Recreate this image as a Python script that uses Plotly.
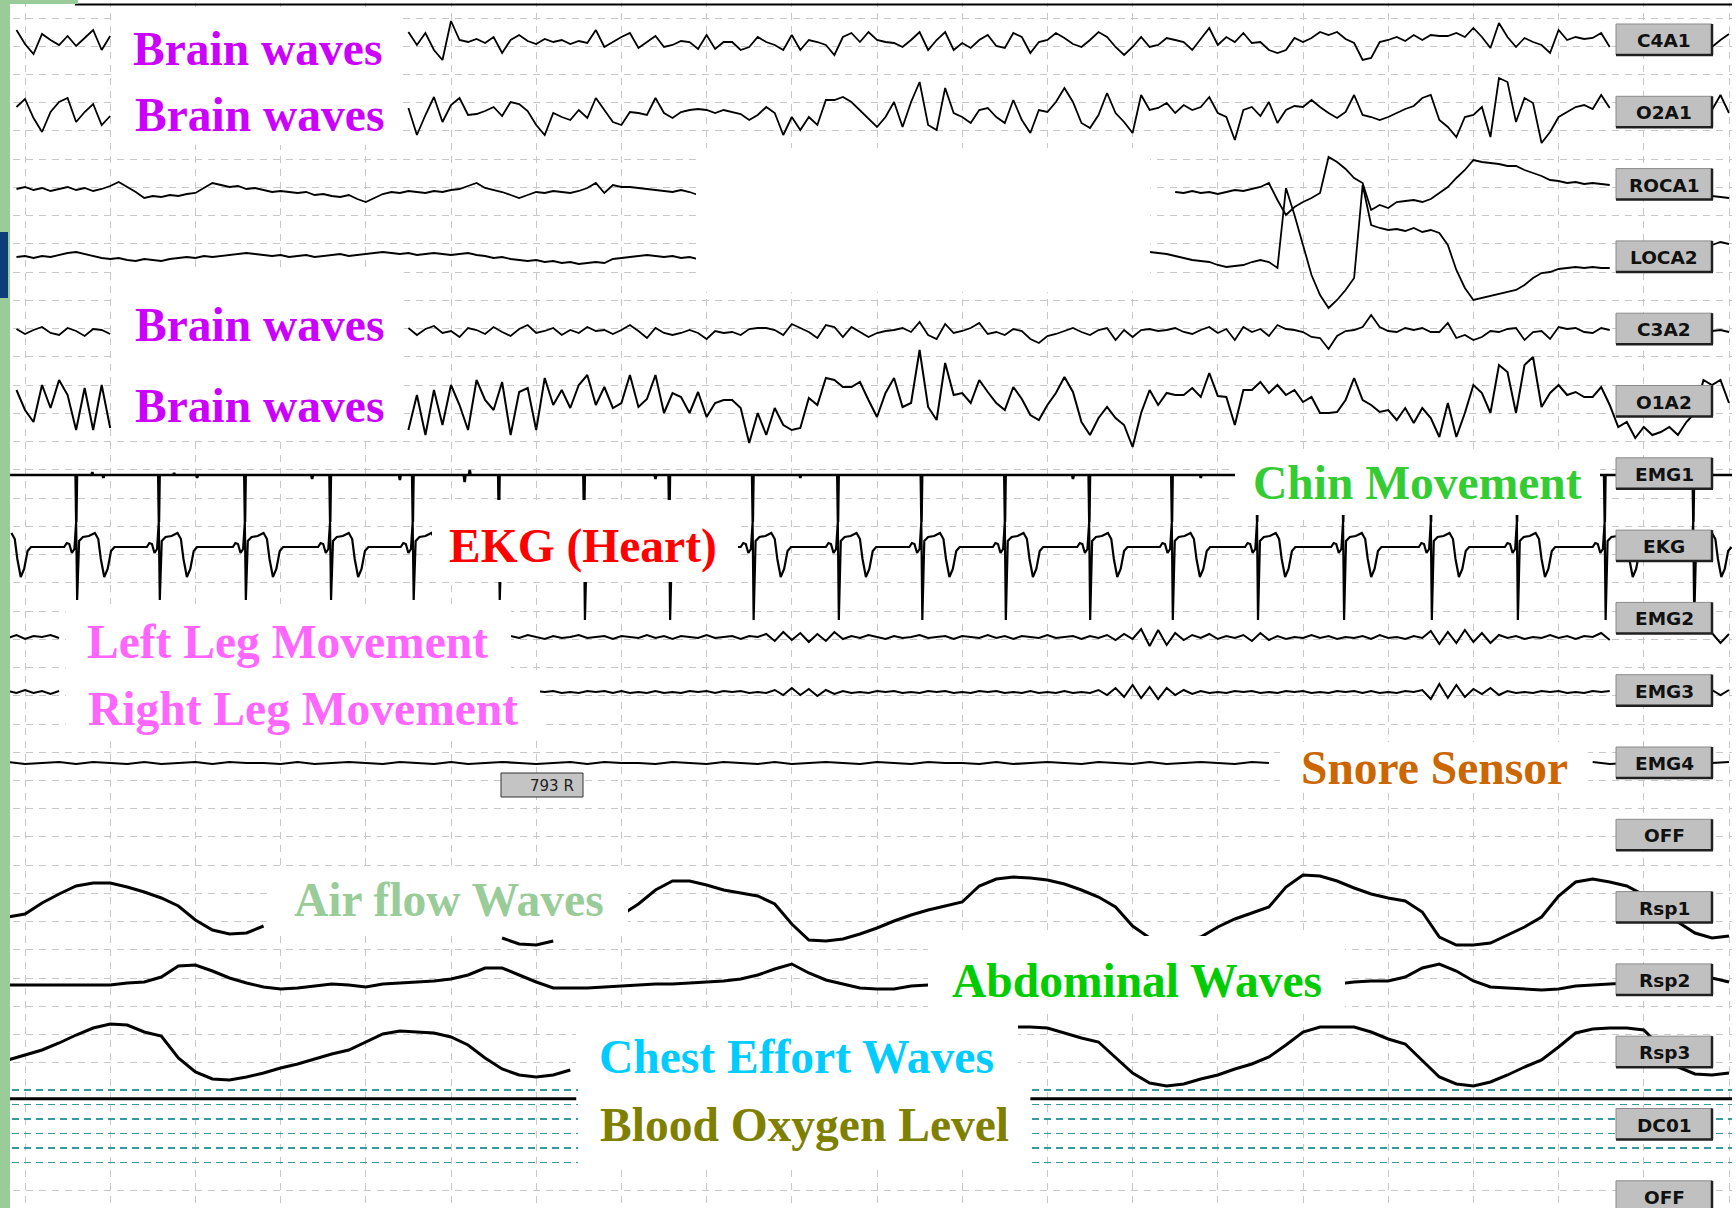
import plotly.graph_objects as go

# ---------------- layout constants (pixels of the 1736x1208 page) ----------------
W, H = 1736, 1208
X0_PX, PX_PER_S = 25.0, 85.2          # time 0 s sits at x=25 px, one second = 85.2 px


def t_of(px):
    return (px - X0_PX) / PX_PER_S


GRID_COLOR = "#c8c8c8"
TEAL = "#349c9c"
GRID_Y0, GRID_DY, GRID_N = 18.0, 28.24, 38
BOX_X0, BOX_X1, BOX_C0, BOX_DC, BOX_H = 1616, 1712, 39.5, 72.3, 31

# ---------------- channel names (right-hand label boxes) ----------------
CHANNEL_NAMES = ["C4A1", "O2A1", "ROCA1", "LOCA2", "C3A2", "O1A2", "EMG1", "EKG",
                 "EMG2", "EMG3", "EMG4", "OFF", "Rsp1", "Rsp2", "Rsp3", "DC01", "OFF"]

# ---------------- signal values (amplitude units, up = positive) ----------------
# EEG C4A1
C4A1_A = [12, -2, -12, 8, 2, -3, 6, -4, 4, 12, -8, 6]
C4A1_B = [10, -3, 9, -8, -18, 21, 2, 0, 3, -1, 5, -11, 2, 7, 1, -2, 3, 0, 2, -2, 1, -1, 12,
          -5, 0, 5, 9, -6, 0, 6, -5, -3, 1,
          0, -7, 7, -7, 0, 0, -8, -5, 5, 0,
          -3, -8, 7, -8, 2, 0, -3, -13, 5, 9,
          0, 10, 2, 0, -1, -5, 2, 10, -8, 2,
          10, -8, -1, -6, 2, 7, -4, -6, 9, 5,
          -11, 0, 2, 9, 4, -2, -5, 2, 10, 5,
          -5, -13, -5, 5, -5, -3, 4, 2, 0, -8,
          3, 14, -3, 5, 0, 9, -1, 0, -8, -11,
          -8, 4, 0, 4, 10, 7, 10, 3, -1, -18,
          -16, 0, 2, 5, 1, 7, 2, 7, 6, 6,
          9, 5, 14, 5, -6, 19, 5, -5, 4, 0,
          -3, -11, 12, 2, 5, 3, 4, 9, -5]
C4A1_C = [-5, 2, 8]

# EEG O2A1
O2A1_A = [3, 11, -8, -22, -2, 8, 12, -12, -2, 6, -15, -6]
O2A1_B = [2, -25, -5, 13, -12, 5, 12, -5, -4, -1, 3, -6, 8, 6, -1, -15, -25, -3, -7, -10, 0, -8, 12,
          0, -12, -15, -2, -3, -5, 12, -3, -8, -2,
          0, 1, 0, -3, 0, -2, -4, -10, -5, 3,
          -3, -25, -7, -20, -7, -15, 10, 10, 13, 8,
          0, -8, -17, -7, 8, -17, 8, 28, -15, -20,
          22, -3, -7, -13, 0, 2, -7, -13, 10, -10,
          -23, 0, -2, 8, 22, 8, -13, -18, -5, 17,
          -3, -12, -23, 15, 0, 2, 7, -3, 5, 0,
          3, 13, -3, -7, -30, 0, 3, -6, 8, -13,
          0, 4, 3, 10, 3, -3, -8, -2, 15, -5,
          -7, -10, -7, -3, 1, 4, 12, 15, -10, -17,
          -27, -7, -5, 3, -27, 32, 28, -12, 12, 7,
          -33, -22, -7, -2, 3, 5, 1, 15, 2]
O2A1_C = [0, 15, -3]

# EOG ROCA1
ROCA1_A = [1, 3, 0, 2, -1, 1, 3, 0, 2, -1,
           1, 4, 8, 3, -2, -8, -6, -7, -5, -6,
           -4, -3, 2, 7, 5, 3, 4, 1, 2, 0,
           -2, -1, -2, -3, -2, -5, -4, -6, -7, -5,
           -9, -12, -8, -4, -2, -3, -1, -2, -3, -1,
           -2, 0, 1, 4, 7, 2, 0, -2, -5, -8,
           -5, -2, -3, -1, -2, -3, -1, 2, 7, -3,
           5, 3, 3, 2, 1, 0, -1, -2, 0, -2, -5]
ROCA1_B = [-2, -3, -1, -3, -2, -4, -2, 0, -1, 1, 3, 7,
           -10, -25, -17, -12, -8, -3, 33, 28, 21, 12, 7,
           -20, -15, -18, -12, -11, -10, -12, -9, -3, 3, 12, 20, 30,
           28, 27, 26, 24, 24, 20, 17, 14, 10, 9, 7, 8, 6, 7, 6, 5]
ROCA1_C = [-6, -7, -8]

# EOG LOCA2
LOCA2_A = [-7, -6, -8, -6, -7, -5, -3, -2, -4, -6,
           -8, -9, -8, -10, -11, -9, -10, -11, -9, -8,
           -7, -8, -6, -7, -6, -5, -4, -3, -4, -5,
           -6, -5, -7, -6, -5, -7, -6, -5, -4, -6,
           -5, -4, -3, -2, -3, -4, -3, -5, -4, -3,
           -4, -5, -4, -3, -5, -6, -8, -7, -9, -10,
           -11, -10, -12, -11, -13, -12, -14, -13, -12, -13,
           -9, -8, -7, -6, -5, -6, -7, -6, -8, -7, -9, -13]
LOCA2_B = [-2, -3, -4, -6, -8, -10, -11, -12, -15, -17, -16, -15, -12, -10, -12, -18,
           62, 35, 5, -25, -45, -58, -50, -40, -28, 65,
           25, 22, 20, 21, 19, 22, 18, 20, 17, 5,
           -20, -38, -50, -48, -46, -44, -42, -40, -35, -28,
           -23, -22, -19, -18, -17, -18, -17, -18, -18]
LOCA2_C = [5, 8, 6]

# EEG C3A2
C3A2_A = [2, -3, 1, 4, -2, -4, 3, 0, -5, 2, 1, -3]
C3A2_B = [3, -4, 2, 5, -2, 0, -6, 3, 1, -3, 4, -1, -5, 2, 6, -2, 0, 3, -4, 1, -2, 4, 0,
          1, -3, 1, 6, 0, -7, 3, -2, -4, -2,
          1, -2, -8, 0, -2, -1, -4, 2, 3, 3,
          1, -4, 7, 3, -1, -7, 6, 4, -6, 4,
          -1, -6, -2, 0, 1, 3, -1, 9, -4, -8,
          7, -2, 0, 3, 8, -3, -1, -4, 2, 0,
          -8, -12, -5, -3, 0, 3, -1, -4, 1, 3,
          -9, 1, -6, 1, 2, 0, 1, 3, -1, -3,
          1, 4, -2, 2, -9, 4, -1, 2, -5, 6,
          2, 1, -1, -6, -7, -18, -5, 0, 1, 4,
          16, 4, 0, -1, 3, 1, 3, -1, -1, 8,
          -7, -4, -9, -6, 0, -1, 2, 3, -9, -1,
          0, -8, 4, 2, 3, -1, -2, 3, 1]
C3A2_C = [0, 1, -1]

# EEG O1A2
O1A2_A = [10, -10, -22, 15, -8, 20, 5, -30, 12, -30, 15, -28]
O1A2_B = [-30, 5, -35, 10, -25, 15, -5, -30, 20, 0, -10, 18, -35, 8, 12, -30, 22, -5, 10, -8, 15, 25, -5,
          13, -8, -3, 25, -7, 1, 25, -13, 7, 3,
          -13, 8, -17, -3, 0, 0, -8, -43, -13, -35,
          -8, -25, -30, -28, 2, -5, 22, 20, 13, 13,
          18, 0, -17, 7, 22, -7, -3, 50, -7, -20,
          37, 5, 7, -3, 20, 8, -3, -10, 13, 1,
          -15, -20, -5, 7, 23, 8, -22, -35, -18, -7,
          -18, -25, -47, -13, 10, -5, 7, 5, 5, 12,
          3, 27, 4, 3, -25, 10, 10, 18, 7, 15,
          5, 10, -2, 3, -13, -13, -12, 0, 22, 0,
          -5, -12, -10, -20, -8, -23, -8, -18, -37, -3,
          -37, -13, 15, 7, -13, 35, 28, -13, 35, 43,
          -7, 7, 15, 5, 8, 3, 3, 13, -5, -27,
          -22, -38, -27, -35, -32, -27, -35, -22, -13, 20,
          15, 20, -3]

# EKG: beat times (s), R and S amplitudes, and the shape around each beat
EKG_BEATS = [-0.38, 0.60, 1.57, 2.58, 3.58, 4.55, 5.56, 6.56, 7.56, 8.54, 9.54,
             10.52, 11.50, 12.49, 13.46, 14.46, 15.47, 16.50, 17.51, 18.54, 19.58]
EKG_R = [25, 25, 25, 25, 25, 25, 25, 25, 25, 25, 25, 25, 25, 25, 25, 25, 25, 25, 25, 25, 25]
EKG_S = [-53, -53, -53, -53, -53, -53, -53, -73, -73, -73, -73, -73, -73, -73, -73, -73,
         -73, -73, -73, -73, -73]
EKG_PRE_DT = [-0.14, -0.11, -0.08, -0.05, -0.02]
EKG_PRE_V = [0, 4, 3, -6, -2]
EKG_POST_DT = [0.035, 0.08, 0.15, 0.22, 0.26, 0.29, 0.33, 0.37, 0.41, 0.45]
EKG_POST_V = [6, 10, 11, 14, 8, -12, -30, -22, -4, 0]

# Chin EMG1: cardiac artefact depth at each beat, plus small blips
EMG1_SPIKE = [-47, -47, -47, -47, -47, -47, -47, -47, -47, -47, -47, -47, -47, -47,
              -47, -47, -47, -47, -47, -47, -47]
EMG1_BLIP_T = [0.79, 0.92, 1.75, 2.02, 3.37, 4.40, 5.16, 5.22, 7.40, 9.10, 12.30, 13.80]
EMG1_BLIP_V = [3, -3, 2, -3, -4, -5, -7, 5, -4, -3, -4, -3]

# Leg EMG2 / EMG3
EMG2_A = [-1, 2, -2, 1, 0, 2, -1]
EMG2_B = [1, -1, 2, 0, -2, 1, -1, 0, 2, -1,
          0, 1, -2, 1, 0, -1, 2, -1, 1, -2,
          1, 0, -1, 2, -1, 0, 1, -2, 1, 0,
          3, -4, 5, -3, 4, -5, 3, -4, 5, -2,
          1, -1, 2, 0, -2, 1, -1, 0, 2, -1,
          0, 1, -2, 1, 0, -1, 2, -1, 1, -2,
          1, 0, -1, 2, -1, 0, 1, -2, 1, -1,
          2, -3, 3, -2, 8, -9, 7, -8, 4, -3,
          2, -1, 3, -2, 1, -1, 2, -4, 4, -3,
          1, -2, 0, -1, 2, -1, 1, -2, 0, -1,
          1, -2, 2, -1, 0, -2, 1, -1, 6, -7,
          5, -6, 7, -5, 4, -6, 2, -1, 1, -2,
          0, -1, 2, -1, 1, -2, 1, 0, 4, -3]
EMG2_C = [4, -6, 3]
EMG3_A = [1, -1, 2, -1, 1, -2, 1]
EMG3_B = [1, 0, 1, -1, 0, -1, 1, 0, 1, -1,
          1, -1, 0, -1, 1, -1, 0, -1, 1, 0,
          1, -1, 1, 0, 1, -1, 0, -1, 2, -3,
          4, -3, 3, -4, 2, -2, 1, -1, 0, -1,
          1, 0, 1, -1, 0, -1, 1, 0, 1, -1,
          0, -1, 1, 0, 1, -1, 0, -1, 1, -1,
          0, -1, 1, -1, 0, -1, 2, -3, 4, -5,
          7, -6, 5, -7, 4, -3, 2, -2, 1, -1,
          0, -1, 1, 0, 1, -1, 0, -1, 1, 0,
          1, -1, 0, -1, 1, 0, 1, -1, 1, -1,
          0, -1, 1, 0, 2, -7, 8, -6, 7, -5,
          3, -2, 4, -3, 1, -1, 0, -1, 1, 0,
          1, -1, 0, -1, 1, 0, 1]
EMG3_C = [2, -3, 2]

# Snore EMG4
EMG4_A = [1, -1, 0, 1, -1, 1, 0, -1, 1, -1, 0, 1, -1, 1, 0,
          0, -1, 1, -1, 0, 1, 0, -1, 1, 0, -1, 1, -1, 0, 1,
          0, -1, 0, 1, -1, 1, 0, 0, -1, 1, 0, -1, 1, 0, -1,
          1, -1, 0, 1, 0, -1, 1, 0, -1, 1, 0, 0, -1, 1, -1,
          0, 1, 0, -1, 1, 0, -1, 1, -1, 0, 1, 0, -1, 1, 0]
EMG4_B = [1, -1, 0]
EMG4_C = [0, 1]

# Respiration
RSP1_A = [-10, -7, 4, 13, 21, 24, 24, 20, 15, 9, 1, -13, -23, -27, -26, -19]
RSP1_B = [-31, -37, -38, -34]
RSP1_C = [-8, 3, 17, 26, 26, 22, 17, 14, 11, 3,
          -17, -33, -34, -32, -27, -21, -14, -8, -3, 1,
          5, 21, 28, 30, 29, 27, 23, 17, 10, 0,
          -19, -31, -36, -33, -30, -20, -12, -6, 0, 20,
          32, 31, 26, 19, 13, 9, 6, -5, -30, -38,
          -38, -36, -28, -20, -10, 11, 25, 28, 25, 21,
          12, -2, -15, -26, -31, -29]
RSP2_A = [-2, -2, -2, -2, -2, -2, -2, 0, 1, 6,
          17, 18, 12, 5, 0, -4, -6, -5, -3, -1,
          -2, -4, -1, 0, 1, 2, 4, 8, 15, 15,
          8, 1, -5, -5, -5, -4, -3, -2, -1, -1,
          0, 1, 2, 4, 8, 14, 19, 10, 3, -1,
          -5, -6, -6, -3, -2]
RSP2_B = [-1, 1, 2, 2, 6, 15, 19, 12, 2, -4,
          -5, -6, -7, -6, -3, -2, -1, 0, 1, 2,
          3, 4, 5, 1]
RSP3_A = [-8, -3, 2, 9, 17, 24, 28, 27, 20, 16,
          -6, -20, -27, -28, -25, -21, -16, -12, -7, -2,
          2, 10, 18, 21, 20, 19, 15, 7, -6, -17,
          -23, -25, -23, -18]
RSP3_B = [25, 25, 24, 19, 14, 10, -6, -21, -31, -34,
          -32, -27, -23, -17, -12, -5, 7, 20, 25, 25,
          25, 20, 13, 8, -8, -25, -32, -34, -30, -23,
          -15, -8, 5, 19, 23, 24, 24, 22, 5, -15,
          -22, -23, -21]

# SpO2 (%) readings
DC01_T_A = [-0.2, 1.0, 2.0, 3.0, 4.0, 5.0, 6.0, 6.47]
DC01_A = [97, 97, 97, 97, 97, 97, 97, 97]
DC01_T_B = [11.8, 13.0, 14.0, 15.0, 16.0, 17.0, 18.0, 19.0, 20.1]
DC01_B = [97, 97, 97, 97, 97, 97, 97, 97, 97]
SPO2_LEVELS = [75, 80, 85, 90, 95, 100]
SPO2_TOP_PX, SPO2_PX_PER_PCT = 1090.0, 2.9

# ---------------- helpers ----------------


def build(segments):
    xs, ys = [], []
    for t0, dt, vals in segments:
        if xs:
            xs.append(None)
            ys.append(None)
        for i, v in enumerate(vals):
            xs.append(round(t0 + i * dt, 4))
            ys.append(v)
    return xs, ys


def build_ekg():
    xs, ys = [], []
    for tb, r, s in zip(EKG_BEATS, EKG_R, EKG_S):
        pts = [(tb + d, v) for d, v in zip(EKG_PRE_DT, EKG_PRE_V)]
        pts += [(tb, r), (tb + 0.012, s)]
        pts += [(tb + d, v) for d, v in zip(EKG_POST_DT, EKG_POST_V)]
        for t, v in pts:
            if t >= -0.18:
                xs.append(round(t, 4))
                ys.append(v)
    return xs, ys


def build_emg1():
    ev = []
    for tb, a in zip(EKG_BEATS, EMG1_SPIKE):
        ev += [(tb - 0.006, 0), (tb + 0.002, a), (tb + 0.010, 0)]
    for tb, a in zip(EMG1_BLIP_T, EMG1_BLIP_V):
        ev += [(tb - 0.01, 0), (tb, a), (tb + 0.01, 0)]
    ev = [(-0.18, 0)] + sorted(ev) + [(20.05, 0)]
    return [round(t, 4) for t, _ in ev], [v for _, v in ev]


# (name, baseline px, x/y, line width)
CHANNEL_TRACES = [
    ("C4A1", 42, build([(-0.1, 0.1, C4A1_A), (4.5, 0.1, C4A1_B), (19.8, 0.1, C4A1_C)]), 1.8),
    ("O2A1", 110, build([(-0.1, 0.1, O2A1_A), (4.5, 0.1, O2A1_B), (19.8, 0.1, O2A1_C)]), 1.8),
    ("ROCA1", 190, build([(-0.1, 0.1, ROCA1_A), (13.5, 0.1, ROCA1_B), (19.8, 0.1, ROCA1_C)]), 1.8),
    ("LOCA2", 250, build([(-0.1, 0.1, LOCA2_A), (13.2, 0.1, LOCA2_B), (19.8, 0.1, LOCA2_C)]), 1.8),
    ("C3A2", 331, build([(-0.1, 0.1, C3A2_A), (4.5, 0.1, C3A2_B), (19.8, 0.1, C3A2_C)]), 1.8),
    ("O1A2", 400, build([(-0.1, 0.1, O1A2_A), (4.5, 0.1, O1A2_B)]), 2.0),
    ("EMG1", 475, build_emg1(), 2.6),
    ("EKG", 547, build_ekg(), 2.2),
    ("EMG2", 637, build([(-0.2, 0.1, EMG2_A), (5.7, 0.1, EMG2_B), (19.8, 0.1, EMG2_C)]), 2.0),
    ("EMG3", 692, build([(-0.2, 0.1, EMG3_A), (6.0, 0.1, EMG3_B), (19.8, 0.1, EMG3_C)]), 2.0),
    ("EMG4", 763, build([(-0.2, 0.2, EMG4_A), (18.4, 0.2, EMG4_B), (19.8, 0.2, EMG4_C)]), 2.2),
    ("Rsp1", 907, build([(-0.2, 0.2, RSP1_A), (5.6, 0.2, RSP1_B), (7.0, 0.2, RSP1_C)]), 3.0),
    ("Rsp2", 983, build([(-0.2, 0.2, RSP2_A), (15.4, 0.2, RSP2_B)]), 3.0),
    ("Rsp3", 1052, build([(-0.2, 0.2, RSP3_A), (11.6, 0.2, RSP3_B)]), 3.0),
]

fig = go.Figure()
layout_axes = {}
n = 2
for name, base, (xs, ys), lw in CHANNEL_TRACES:
    ax = "y%d" % n
    fig.add_trace(go.Scatter(x=xs, y=ys, mode="lines", yaxis=ax, name=name,
                             line=dict(color="black", width=lw), hoverinfo="skip",
                             showlegend=False, connectgaps=False))
    layout_axes["yaxis%d" % n] = dict(overlaying="y", range=[base - H, base], visible=False,
                                      fixedrange=True)
    n += 1

# SpO2 channel with its own teal reference levels
ax = "y%d" % n
for tx, vy in ((DC01_T_A, DC01_A), (DC01_T_B, DC01_B)):
    fig.add_trace(go.Scatter(x=tx, y=vy, mode="lines", yaxis=ax, name="DC01",
                             line=dict(color="black", width=3), hoverinfo="skip",
                             showlegend=False))
layout_axes["yaxis%d" % n] = dict(
    overlaying="y",
    range=[100 - (H - SPO2_TOP_PX) / SPO2_PX_PER_PCT, 100 + SPO2_TOP_PX / SPO2_PX_PER_PCT],
    showgrid=True, gridcolor=TEAL, griddash="7px,5px", gridwidth=1.6,
    tickmode="array", tickvals=SPO2_LEVELS, showticklabels=False, ticks="",
    zeroline=False, showline=False, fixedrange=True)

# ---------------- shapes ----------------
shapes = []


def rect(x0, y0, x1, y1, fill, layer="above", line=None):
    d = dict(type="rect", xref="x", yref="y", x0=t_of(x0), x1=t_of(x1), y0=y0, y1=y1,
             fillcolor=fill, layer=layer, line=dict(width=0))
    if line:
        d["line"] = line
    shapes.append(d)


def seg(x0, y0, x1, y1, color, width):
    shapes.append(dict(type="line", xref="x", yref="y", x0=t_of(x0), x1=t_of(x1),
                       y0=y0, y1=y1, line=dict(color=color, width=width), layer="above"))


# white label boxes of the slide
WHITE_BOXES = [
    (112, 8, 402, 145), (113, 272, 404, 440), (696, 148, 1150, 292),
    (432, 500, 738, 582), (1235, 452, 1600, 515), (66, 604, 511, 672),
    (66, 672, 540, 740), (1280, 742, 1588, 792), (268, 866, 628, 932),
    (928, 936, 1345, 1012), (576, 1012, 1018, 1086), (578, 1086, 1030, 1170),
]
for b in WHITE_BOXES:
    rect(*b, fill="white")

# channel label buttons
annotations = []
for i, name in enumerate(CHANNEL_NAMES):
    c = BOX_C0 + BOX_DC * i
    rect(BOX_X0, c - BOX_H / 2, BOX_X1, c + BOX_H / 2, "#c0c0c0",
         line=dict(color="#8a8a8a", width=1))
    seg(BOX_X0, c + BOX_H / 2, BOX_X1 + 1, c + BOX_H / 2, "#202020", 2.5)
    seg(BOX_X1, c - BOX_H / 2, BOX_X1, c + BOX_H / 2, "#202020", 2.5)
    annotations.append(dict(x=t_of((BOX_X0 + BOX_X1) / 2), y=c + 1, xref="x", yref="y",
                            text="<b>%s</b>" % name, showarrow=False, xanchor="center",
                            yanchor="middle",
                            font=dict(family="DejaVu Sans", size=18.5, color="#111111")))

# small "793 R" marker
rect(501, 773, 583, 797, "#c4c4c4", line=dict(color="#333333", width=1))
annotations.append(dict(x=t_of(576), y=786, xref="x", yref="y", text="793 R", showarrow=False,
                        xanchor="right", yanchor="middle",
                        font=dict(family="DejaVu Sans", size=15, color="#222222")))


# page decorations (paper coordinates)
def prect(x0, y0, x1, y1, fill):
    shapes.append(dict(type="rect", xref="paper", yref="paper", x0=x0 / W, x1=x1 / W,
                       y0=1 - y1 / H, y1=1 - y0 / H, fillcolor=fill, line=dict(width=0),
                       layer="above"))


prect(0, 0, W, 3, "white")
prect(1732, 0, W, H, "white")
shapes.append(dict(type="line", xref="paper", yref="paper", x0=75 / W, x1=1732 / W,
                   y0=1 - 4.5 / H, y1=1 - 4.5 / H, line=dict(color="black", width=2),
                   layer="above"))
prect(0, 0, 78, 4, "#99cc99")
prect(0, 0, 10, H, "#99cc99")
prect(0, 232, 8, 298, "#0e3c78")

# ---------------- slide captions ----------------
LABELS = [
    ("Brain waves", 257.5, 48.5, "#cc00ff"),
    ("Brain waves", 259.5, 115, "#cc00ff"),
    ("Brain waves", 259.5, 325, "#cc00ff"),
    ("Brain waves", 259.5, 406, "#cc00ff"),
    ("Chin Movement", 1417, 483, "#33cc33"),
    ("EKG (Heart)", 582.5, 546, "#ff0000"),
    ("Left Leg Movement", 287.5, 642, "#ff66ff"),
    ("Right Leg Movement", 303, 709, "#ff66ff"),
    ("Snore Sensor", 1434.5, 768, "#cc6600"),
    ("Air flow Waves", 449, 900, "#99cc99"),
    ("Abdominal Waves", 1136.5, 981, "#00cc00"),
    ("Chest Effort Waves", 796, 1057, "#00ccff"),
    ("Blood Oxygen Level", 804.5, 1125, "#808000"),
]
for text, cx, cy, col in LABELS:
    annotations.append(dict(x=t_of(cx), y=cy, xref="x", yref="y", text="<b>%s</b>" % text,
                            showarrow=False, xanchor="center", yanchor="middle",
                            font=dict(family="Liberation Serif", size=47.5, color=col)))

grid_vals = [GRID_Y0 + GRID_DY * k for k in range(GRID_N)] + [1190.0]

fig.update_layout(
    width=W, height=H, autosize=False, margin=dict(l=0, r=0, t=0, b=0, pad=0),
    paper_bgcolor="white", plot_bgcolor="white", showlegend=False,
    xaxis=dict(range=[t_of(0), t_of(W)], tickmode="linear", tick0=0, dtick=1,
               showgrid=True, gridcolor=GRID_COLOR, griddash="7px,6px", gridwidth=1,
               zeroline=False, showticklabels=False, ticks="", showline=False, fixedrange=True),
    yaxis=dict(range=[H, 0], tickmode="array", tickvals=grid_vals, showgrid=True,
               gridcolor=GRID_COLOR, griddash="7px,6px", gridwidth=1, zeroline=False,
               showticklabels=False, ticks="", showline=False, fixedrange=True),
    shapes=shapes, annotations=annotations,
    **layout_axes,
)

fig.write_html("out.html", config={"displayModeBar": False, "staticPlot": True},
               post_script="document.body.style.margin='0px';document.body.style.overflow='hidden';")
